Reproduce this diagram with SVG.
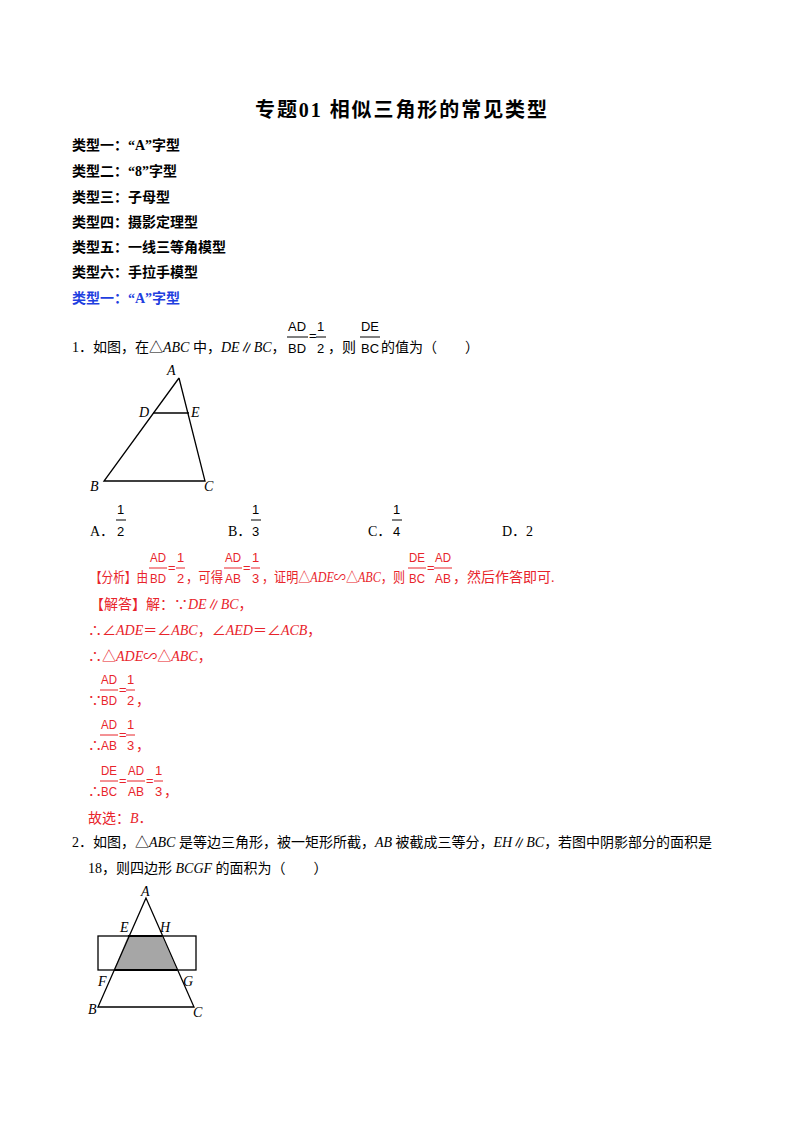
<svg xmlns="http://www.w3.org/2000/svg" width="800" height="1132" viewBox="0 0 800 1132">
<style>
text{font-family:"Liberation Serif","Noto Sans CJK SC",serif;font-size:14px;fill:#000}
.b{font-weight:bold}
.r{fill:#e8242b}
.bl{fill:#1f3fe0}
.i{font-style:italic}
.f{font-family:"Liberation Sans",sans-serif;font-size:13px}
.fl{stroke:#000;stroke-width:1}
.fr{stroke:#e8242b;stroke-width:1}
.g{stroke:#000;stroke-width:1.3;fill:none}
</style>
<rect width="800" height="1132" fill="#fff"/>
<text x="255" y="117" class="b" style="font-size:20px" textLength="292" lengthAdjust="spacing">专题01  相似三角形的常见类型</text>
<text x="72" y="150" class="b">类型一：“A”字型</text>
<text x="72" y="176" class="b">类型二：“8”字型</text>
<text x="72" y="202" class="b">类型三：子母型</text>
<text x="72" y="227" class="b">类型四：摄影定理型</text>
<text x="72" y="252" class="b">类型五：一线三等角模型</text>
<text x="72" y="277" class="b">类型六：手拉手模型</text>
<text x="72" y="303" class="b bl">类型一：“A”字型</text>

<g id="q1">
<text x="72" y="352">1．如图，在△<tspan class="i">ABC</tspan> 中，<tspan class="i">DE</tspan>∥<tspan class="i">BC</tspan>，</text>
<text x="288" y="331" class="f" textLength="18" lengthAdjust="spacingAndGlyphs">AD</text><line x1="287" y1="337" x2="308" y2="337" class="fl"/><text x="288" y="353" class="f" textLength="18" lengthAdjust="spacingAndGlyphs">BD</text>
<text x="309" y="340" class="f">=</text>
<text x="317" y="331" class="f">1</text><line x1="316" y1="337" x2="326" y2="337" class="fl"/><text x="317" y="353" class="f">2</text>
<text x="328" y="352">，则</text>
<text x="361" y="331" class="f" textLength="18" lengthAdjust="spacingAndGlyphs">DE</text><line x1="360" y1="337" x2="380" y2="337" class="fl"/><text x="361" y="353" class="f" textLength="18" lengthAdjust="spacingAndGlyphs">BC</text>
<text x="381" y="352">的值为（　　）</text>
</g>
<g id="fig1">
<polyline points="179,378 104,481 205,481 179,378" class="g"/>
<line x1="153" y1="413" x2="189" y2="413" class="g"/>
<text x="167" y="375" class="i">A</text><text x="139" y="417" class="i">D</text><text x="191" y="417" class="i">E</text>
<text x="90" y="491" class="i">B</text><text x="204" y="491" class="i">C</text>
</g>
<g id="opts">
<text x="90" y="536">A．</text><text x="117" y="514" class="f">1</text><line x1="116" y1="520" x2="126" y2="520" class="fl"/><text x="117" y="536" class="f">2</text>
<text x="228" y="536">B．</text><text x="252" y="514" class="f">1</text><line x1="251" y1="520" x2="261" y2="520" class="fl"/><text x="252" y="536" class="f">3</text>
<text x="368" y="536">C．</text><text x="393" y="514" class="f">1</text><line x1="392" y1="520" x2="402" y2="520" class="fl"/><text x="393" y="536" class="f">4</text>
<text x="502" y="536">D．2</text>
</g>
<g id="ana">
<text x="90" y="582" class="r" textLength="58" lengthAdjust="spacingAndGlyphs">【分析】由</text>
<text x="150" y="562" class="f r" textLength="16" lengthAdjust="spacingAndGlyphs">AD</text><line x1="149" y1="568" x2="167" y2="568" class="fr"/><text x="150" y="583" class="f r" textLength="16" lengthAdjust="spacingAndGlyphs">BD</text>
<text x="168" y="572" class="f r">=</text>
<text x="177" y="562" class="f r">1</text><line x1="176" y1="568" x2="185" y2="568" class="fr"/><text x="177" y="583" class="f r">2</text>
<text x="186" y="582" class="r" textLength="37" lengthAdjust="spacingAndGlyphs">，可得</text>
<text x="225" y="562" class="f r" textLength="16" lengthAdjust="spacingAndGlyphs">AD</text><line x1="224" y1="568" x2="242" y2="568" class="fr"/><text x="225" y="583" class="f r" textLength="16" lengthAdjust="spacingAndGlyphs">AB</text>
<text x="243" y="572" class="f r">=</text>
<text x="252" y="562" class="f r">1</text><line x1="251" y1="568" x2="260" y2="568" class="fr"/><text x="252" y="583" class="f r">3</text>
<text x="262" y="582" class="r" textLength="143" lengthAdjust="spacingAndGlyphs">，证明△<tspan class="i">ADE</tspan>∽△<tspan class="i">ABC</tspan>，则</text>
<text x="409" y="562" class="f r" textLength="16" lengthAdjust="spacingAndGlyphs">DE</text><line x1="408" y1="568" x2="426" y2="568" class="fr"/><text x="409" y="583" class="f r" textLength="16" lengthAdjust="spacingAndGlyphs">BC</text>
<text x="427" y="572" class="f r">=</text>
<text x="435" y="562" class="f r" textLength="16" lengthAdjust="spacingAndGlyphs">AD</text><line x1="434" y1="568" x2="452" y2="568" class="fr"/><text x="435" y="583" class="f r" textLength="16" lengthAdjust="spacingAndGlyphs">AB</text>
<text x="453" y="582" class="r">，然后作答即可.</text>
<text x="90" y="609" class="r">【解答】解：∵<tspan class="i">DE</tspan>∥<tspan class="i">BC</tspan>，</text>
<text x="88" y="635" class="r">∴∠<tspan class="i">ADE</tspan>＝∠<tspan class="i">ABC</tspan>，∠<tspan class="i">AED</tspan>＝∠<tspan class="i">ACB</tspan>，</text>
<text x="88" y="661" class="r">∴△<tspan class="i">ADE</tspan>∽△<tspan class="i">ABC</tspan>，</text>
<text x="88" y="705" class="r">∵</text>
<text x="101" y="684" class="f r" textLength="16" lengthAdjust="spacingAndGlyphs">AD</text><line x1="100" y1="690" x2="118" y2="690" class="fr"/><text x="101" y="705" class="f r" textLength="16" lengthAdjust="spacingAndGlyphs">BD</text>
<text x="119" y="694" class="f r">=</text>
<text x="127" y="684" class="f r">1</text><line x1="126" y1="690" x2="135" y2="690" class="fr"/><text x="127" y="705" class="f r">2</text>
<text x="136" y="705" class="r">，</text>
<text x="88" y="750" class="r">∴</text>
<text x="101" y="729" class="f r" textLength="16" lengthAdjust="spacingAndGlyphs">AD</text><line x1="100" y1="735" x2="118" y2="735" class="fr"/><text x="101" y="750" class="f r" textLength="16" lengthAdjust="spacingAndGlyphs">AB</text>
<text x="119" y="739" class="f r">=</text>
<text x="127" y="729" class="f r">1</text><line x1="126" y1="735" x2="135" y2="735" class="fr"/><text x="127" y="750" class="f r">3</text>
<text x="136" y="750" class="r">，</text>
<text x="88" y="796" class="r">∴</text>
<text x="101" y="775" class="f r" textLength="16" lengthAdjust="spacingAndGlyphs">DE</text><line x1="100" y1="781" x2="118" y2="781" class="fr"/><text x="101" y="796" class="f r" textLength="16" lengthAdjust="spacingAndGlyphs">BC</text>
<text x="119" y="785" class="f r">=</text>
<text x="128" y="775" class="f r" textLength="16" lengthAdjust="spacingAndGlyphs">AD</text><line x1="127" y1="781" x2="145" y2="781" class="fr"/><text x="128" y="796" class="f r" textLength="16" lengthAdjust="spacingAndGlyphs">AB</text>
<text x="146" y="785" class="f r">=</text>
<text x="155" y="775" class="f r">1</text><line x1="154" y1="781" x2="163" y2="781" class="fr"/><text x="155" y="796" class="f r">3</text>
<text x="164" y="796" class="r">，</text>
<text x="88" y="823" class="r">故选：<tspan class="i">B</tspan>．</text>
</g>
<g id="q2">
<text x="72" y="847">2．如图，△<tspan class="i">ABC</tspan> 是等边三角形，被一矩形所截，<tspan class="i">AB</tspan> 被截成三等分，<tspan class="i">EH</tspan>∥<tspan class="i">BC</tspan>，若图中阴影部分的面积是</text>
<text x="88" y="873">18，则四边形 <tspan class="i">BCGF</tspan> 的面积为（　　）</text>
</g>
<g id="fig2">
<polygon points="128,936 162,936 177,970 114,970" fill="#a6a6a6"/>
<rect x="98" y="936" width="98" height="34" class="g"/>
<line x1="128" y1="936" x2="162" y2="936" stroke="#000" stroke-width="2"/>
<line x1="114" y1="970" x2="177" y2="970" stroke="#000" stroke-width="2"/>
<polygon points="146,898 98,1007 194,1007" class="g"/>
<text x="141" y="896" class="i">A</text><text x="120" y="932" class="i">E</text><text x="160" y="932" class="i">H</text>
<text x="98" y="986" class="i">F</text><text x="183" y="986" class="i">G</text>
<text x="88" y="1014" class="i">B</text><text x="193" y="1017" class="i">C</text>
</g>
</svg>
